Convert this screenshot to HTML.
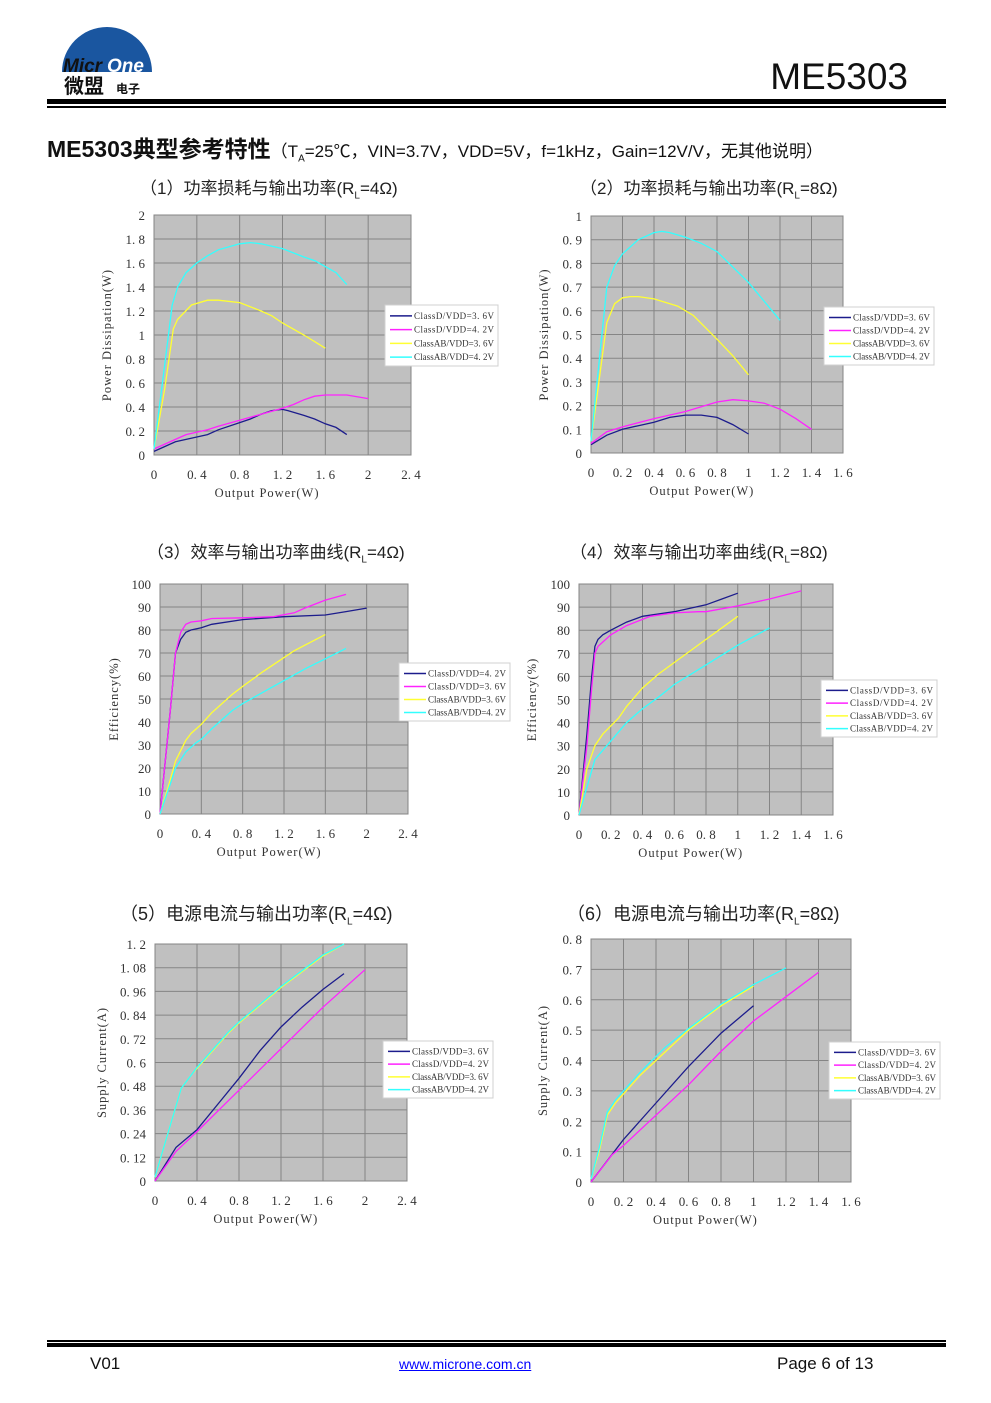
<!DOCTYPE html>
<html><head><meta charset="utf-8">
<style>
body{margin:0;background:#fff;}
#page{position:relative;width:991px;height:1403px;overflow:hidden;background:#fff;font-family:"Liberation Sans","Noto Sans CJK SC",sans-serif;}
.abs{position:absolute;white-space:nowrap;}
.ct{font-size:17px;color:#222;font-family:"Liberation Sans","Noto Sans CJK SC",sans-serif;}
#charts text{font-family:"Liberation Serif","Noto Serif CJK SC",serif;}
</style></head>
<body>
<div id="page">
  <svg class="abs" style="left:60px;top:14px" width="95" height="85">
    <path d="M2,58 A45,45 0 0 1 92,58 Z" fill="#1a56a0"/>
    <text x="3" y="58" style="font-family:'Liberation Sans',sans-serif;font-weight:bold;font-style:italic;font-size:19px" fill="#111">Micr</text>
    <text x="47" y="58" style="font-family:'Liberation Sans',sans-serif;font-weight:bold;font-style:italic;font-size:19px" fill="#fff">One</text>
    <text x="4" y="79" style="font-family:'Noto Sans CJK SC',sans-serif;font-weight:bold;font-size:20px" fill="#111">微盟</text>
    <text x="56" y="79" style="font-family:'Noto Sans CJK SC',sans-serif;font-weight:bold;font-size:12px" fill="#111">电子</text>
  </svg>
  <div class="abs" style="right:83px;top:56px;font-size:37px;color:#111">ME5303</div>
  <div class="abs" style="left:47px;top:99px;width:899px;height:5px;background:#000"></div>
  <div class="abs" style="left:47px;top:106px;width:899px;height:1.5px;background:#000"></div>
  <div class="abs" style="left:47px;top:130px;font-size:23px;font-weight:bold;color:#111">ME5303典型参考特性<span style="font-size:17px;font-weight:normal">（T<sub style="font-size:10px">A</sub>=25℃，VIN=3.7V，VDD=5V，f=1kHz，Gain=12V/V，无其他说明）</span></div>

  <div class="abs ct" style="left:140px;top:174px">（1）功率损耗与输出功率(R<sub style="font-size:10px">L</sub>=4Ω)</div>
  <div class="abs ct" style="left:580px;top:174px">（2）功率损耗与输出功率(R<sub style="font-size:10px">L</sub>=8Ω)</div>
  <div class="abs ct" style="left:147px;top:538px">（3）效率与输出功率曲线(R<sub style="font-size:10px">L</sub>=4Ω)</div>
  <div class="abs ct" style="left:570px;top:538px">（4）效率与输出功率曲线(R<sub style="font-size:10px">L</sub>=8Ω)</div>
  <div class="abs ct" style="left:120px;top:900px;font-size:18px">（5）电源电流与输出功率(R<sub style="font-size:10px">L</sub>=4Ω)</div>
  <div class="abs ct" style="left:567px;top:900px;font-size:18px">（6）电源电流与输出功率(R<sub style="font-size:10px">L</sub>=8Ω)</div>

  <svg id="charts" class="abs" style="left:0;top:0" width="991" height="1403"></svg>

  <div class="abs" style="left:47px;top:1340px;width:899px;height:1.5px;background:#000"></div>
  <div class="abs" style="left:47px;top:1343px;width:899px;height:4px;background:#000"></div>
  <div class="abs" style="left:90px;top:1354px;font-size:17px;color:#111">V01</div>
  <a class="abs" style="left:399px;top:1356px;font-size:14px;color:#00f;text-decoration:underline">www.microne.com.cn</a>
  <div class="abs" style="left:777px;top:1354px;font-size:17px;color:#111">Page 6 of 13</div>
</div>
<script>
// ---- Chart data ----
const c1Legend = ["ClassD/VDD=3.6V","ClassD/VDD=4.2V","ClassAB/VDD=3.6V","ClassAB/VDD=4.2V"];
const c1XTicks = ["0","0.4","0.8","1.2","1.6","2","2.4"];
const c1YTicks = ["0","0.2","0.4","0.6","0.8","1","1.2","1.4","1.6","1.8","2"];
const c1Navy = [[0,0.03],[0.2,0.11],[0.3,0.13],[0.5,0.17],[0.6,0.21],[0.8,0.27],[0.9,0.3],[1.0,0.34],[1.1,0.37],[1.2,0.38],[1.25,0.37],[1.4,0.33],[1.5,0.3],[1.6,0.26],[1.7,0.23],[1.8,0.17]];
const c1Mag = [[0,0.05],[0.2,0.13],[0.3,0.17],[0.5,0.21],[0.6,0.24],[0.8,0.29],[1.0,0.34],[1.2,0.39],[1.3,0.42],[1.4,0.46],[1.5,0.49],[1.6,0.5],[1.7,0.5],[1.8,0.5],[2.0,0.47]];
const c1Yel = [[0,0.05],[0.1,0.55],[0.18,1.05],[0.22,1.13],[0.35,1.25],[0.5,1.29],[0.6,1.29],[0.8,1.27],[1.0,1.2],[1.1,1.16],[1.2,1.1],[1.4,1.0],[1.6,0.89]];
const c1Cyan = [[0,0.05],[0.1,0.75],[0.17,1.25],[0.22,1.4],[0.3,1.52],[0.4,1.6],[0.5,1.66],[0.6,1.71],[0.8,1.76],[0.9,1.77],[1.0,1.76],[1.2,1.72],[1.4,1.65],[1.5,1.62],[1.6,1.57],[1.7,1.52],[1.8,1.42]];

const c2Legend = ["ClassD/VDD=3.6V","ClassD/VDD=4.2V","ClassAB/VDD=3.6V","ClassAB/VDD=4.2V"];
const c2XTicks = ["0","0.2","0.4","0.6","0.8","1","1.2","1.4","1.6"];
const c2YTicks = ["0","0.1","0.2","0.3","0.4","0.5","0.6","0.7","0.8","0.9","1"];
const c2Navy = [[0,0.035],[0.1,0.075],[0.2,0.1],[0.3,0.115],[0.4,0.13],[0.5,0.15],[0.6,0.16],[0.7,0.16],[0.8,0.15],[0.9,0.12],[1.0,0.08]];
const c2Mag = [[0,0.04],[0.1,0.09],[0.2,0.11],[0.4,0.145],[0.6,0.175],[0.7,0.195],[0.8,0.215],[0.9,0.225],[1.0,0.22],[1.1,0.21],[1.2,0.185],[1.3,0.145],[1.4,0.1]];
const c2Yel = [[0,0.05],[0.1,0.55],[0.15,0.63],[0.2,0.655],[0.25,0.66],[0.3,0.66],[0.4,0.65],[0.55,0.62],[0.65,0.58],[0.8,0.48],[0.9,0.41],[1.0,0.33]];
const c2Cyan = [[0,0.05],[0.1,0.7],[0.15,0.79],[0.2,0.84],[0.3,0.9],[0.4,0.93],[0.45,0.935],[0.5,0.93],[0.6,0.91],[0.7,0.885],[0.8,0.85],[1.0,0.72],[1.2,0.56]];

const c3Legend = ["ClassD/VDD=4.2V","ClassD/VDD=3.6V","ClassAB/VDD=3.6V","ClassAB/VDD=4.2V"];
const c3XTicks = ["0","0.4","0.8","1.2","1.6","2","2.4"];
const c3YTicks = ["0","10","20","30","40","50","60","70","80","90","100"];
const c3Navy = [[0,0],[0.1,45],[0.15,70],[0.2,76],[0.25,79],[0.3,80],[0.4,81],[0.5,82.5],[0.8,84.5],[1.2,85.8],[1.6,86.5],[1.8,88],[2.0,89.5]];
const c3Mag = [[0,0],[0.1,45],[0.15,70],[0.2,79],[0.25,82.5],[0.3,83.5],[0.4,84],[0.5,85],[0.8,85.3],[1.1,85.8],[1.3,87.5],[1.4,89.5],[1.6,93],[1.8,95.5]];
const c3Yel = [[0,0],[0.1,15],[0.15,23],[0.25,32],[0.3,35],[0.4,39],[0.5,44],[0.7,52],[0.8,55.5],[1.0,62],[1.2,68],[1.3,71],[1.6,78]];
const c3Cyan = [[0,0],[0.1,13],[0.15,20],[0.25,27],[0.35,31],[0.4,32.5],[0.5,37],[0.7,45],[0.8,48],[1.0,53],[1.2,58],[1.4,63],[1.6,67.5],[1.8,72]];

const c4Legend = ["ClassD/VDD=3.6V","ClassD/VDD=4.2V","ClassAB/VDD=3.6V","ClassAB/VDD=4.2V"];
const c4XTicks = ["0","0.2","0.4","0.6","0.8","1","1.2","1.4","1.6"];
const c4YTicks = ["0","10","20","30","40","50","60","70","80","90","100"];
const c4Navy = [[0,0],[0.05,35],[0.08,60],[0.1,73],[0.12,76],[0.15,78],[0.2,80],[0.3,83.5],[0.4,86],[0.6,88],[0.8,91],[0.9,93.5],[1.0,96]];
const c4Mag = [[0,0],[0.05,30],[0.08,55],[0.1,70],[0.12,73],[0.2,78],[0.3,82],[0.45,86],[0.6,87.5],[0.75,88],[0.8,88],[1.0,90.5],[1.2,93.5],[1.4,97]];
const c4Yel = [[0,0],[0.05,20],[0.1,30],[0.15,35],[0.25,42],[0.3,47],[0.4,55],[0.5,61],[0.6,66],[0.8,76],[1.0,86]];
const c4Cyan = [[0,0],[0.05,12],[0.1,24],[0.15,28],[0.25,36],[0.3,40],[0.4,46],[0.5,51],[0.6,56.5],[0.8,65],[1.0,73.5],[1.2,81]];

const c5Legend = ["ClassD/VDD=3.6V","ClassD/VDD=4.2V","ClassAB/VDD=3.6V","ClassAB/VDD=4.2V"];
const c5XTicks = ["0","0.4","0.8","1.2","1.6","2","2.4"];
const c5YTicks = ["0","0.12","0.24","0.36","0.48","0.6","0.72","0.84","0.96","1.08","1.2"];
const c5Navy = [[0,0],[0.2,0.17],[0.4,0.26],[0.6,0.39],[0.8,0.52],[1.0,0.66],[1.2,0.78],[1.4,0.88],[1.6,0.97],[1.7,1.01],[1.8,1.05]];
const c5Mag = [[0,0],[0.2,0.15],[0.4,0.25],[0.8,0.46],[1.2,0.67],[1.6,0.88],[2.0,1.07]];
const c5Yel = [[0,0.02],[0.1,0.2],[0.2,0.38],[0.25,0.47],[0.35,0.54],[0.4,0.57],[0.5,0.63],[0.7,0.75],[0.8,0.8],[1.0,0.89],[1.2,0.98],[1.5,1.1],[1.6,1.14],[1.8,1.2]];
const c5Cyan = [[0,0.02],[0.1,0.2],[0.2,0.38],[0.25,0.47],[0.35,0.54],[0.4,0.575],[0.5,0.635],[0.7,0.755],[0.8,0.805],[1.0,0.895],[1.2,0.985],[1.5,1.105],[1.6,1.145],[1.8,1.2]];

const c6Legend = ["ClassD/VDD=3.6V","ClassD/VDD=4.2V","ClassAB/VDD=3.6V","ClassAB/VDD=4.2V"];
const c6XTicks = ["0","0.2","0.4","0.6","0.8","1","1.2","1.4","1.6"];
const c6YTicks = ["0","0.1","0.2","0.3","0.4","0.5","0.6","0.7","0.8"];
const c6Navy = [[0,0],[0.1,0.07],[0.2,0.14],[0.4,0.26],[0.6,0.38],[0.8,0.49],[1.0,0.58]];
const c6Mag = [[0,0],[0.13,0.09],[0.2,0.12],[0.4,0.22],[0.6,0.32],[0.8,0.43],[1.0,0.53],[1.2,0.61],[1.4,0.69]];
const c6Yel = [[0,0.01],[0.05,0.1],[0.1,0.22],[0.15,0.26],[0.2,0.29],[0.3,0.35],[0.4,0.4],[0.6,0.5],[0.8,0.58],[1.0,0.645]];
const c6Cyan = [[0,0.01],[0.05,0.11],[0.1,0.23],[0.15,0.27],[0.2,0.3],[0.3,0.36],[0.45,0.44],[0.6,0.505],[0.8,0.585],[1.0,0.65],[1.2,0.705]];

const NS = "http://www.w3.org/2000/svg";
const svg = document.getElementById("charts");
const COLORS = {navy:"#1c1c8c", mag:"#ff22ff", yel:"#ffff33", cyan:"#33ffff"};
function mk(tag, attrs, parent){const e=document.createElementNS(NS,tag);for(const k in attrs)e.setAttribute(k,attrs[k]);(parent||svg).appendChild(e);return e;}
function spaced(s){return s.replace(/\./g,". ");}

function drawChart(id, box, xTicks, yTicks, yTitle, seriesList, legendNames, legendColors, legBox, yTitleOff){
  const g = mk("g",{});
  
  
  const xMax = parseFloat(xTicks[xTicks.length-1]), yMax = parseFloat(yTicks[yTicks.length-1]);
  const sx = v => box.x + v/xMax*box.w;
  const sy = v => box.y + box.h - v/yMax*box.h;
  const bg = mk("rect",{x:box.x,y:box.y,width:box.w,height:box.h,fill:"#c0c0c0",stroke:"#808080","stroke-width":1},g);
  
  
  xTicks.forEach(t=>{const v=parseFloat(t);const x=sx(v);
    mk("line",{x1:x,y1:box.y,x2:x,y2:box.y+box.h,stroke:"#858585","stroke-width":1},g);
    const tx=mk("text",{x:x,y:box.y+box.h+24,"text-anchor":"middle","font-size":13,fill:"#333"},g);
    tx.textContent=spaced(t);
    
    
  });
  yTicks.forEach(t=>{const v=parseFloat(t);const y=sy(v);
    mk("line",{x1:box.x,y1:y,x2:box.x+box.w,y2:y,stroke:"#858585","stroke-width":1},g);
    const ty=mk("text",{x:box.x-9,y:y+5,"text-anchor":"end","font-size":13,fill:"#333"},g);
    ty.textContent=spaced(t);
    
    
  });
  const xt=mk("text",{x:box.x+box.w*0.44,y:box.y+box.h+42,"text-anchor":"middle","font-size":12.5,fill:"#333","letter-spacing":"1"},g);
  xt.textContent="Output Power(W)";
  
  
  const yx=box.x-yTitleOff, yy=box.y+box.h/2;
  const yt=mk("text",{x:yx,y:yy,"text-anchor":"middle","font-size":12.5,fill:"#333","letter-spacing":"1",transform:`rotate(-90 ${yx} ${yy})`},g);
  yt.textContent=yTitle;
  
  
  seriesList.forEach((s,i)=>{
    const d=s.pts.map((p,j)=>(j?"L":"M")+sx(p[0]).toFixed(1)+","+sy(p[1]).toFixed(1)).join(" ");
    const path=mk("path",{d:d,fill:"none",stroke:s.color,"stroke-width":1.3},g);
    
    
  });
  const lg=mk("g",{},g);
  
  
  mk("rect",{x:legBox.x,y:legBox.y,width:legBox.w,height:legBox.h,fill:"#fff",stroke:"#d0d0d0"},lg);
  const step=(legBox.h-6)/4;
  legendNames.forEach((n,i)=>{
    const y=legBox.y+4+step*(i+0.5);
    mk("line",{x1:legBox.x+5,y1:y,x2:legBox.x+27,y2:y,stroke:legendColors[i],"stroke-width":1.5},lg);
    const t=mk("text",{x:legBox.x+29,y:y+3,"font-size":9,fill:"#333",textLength:legBox.w-33,lengthAdjust:"spacing"},lg);
    t.textContent=spaced(n);
    
    
  });
}
const C=COLORS;
drawChart("chart1-power-dissipation-4ohm",{x:154,y:215,w:257,h:240},c1XTicks,c1YTicks,"Power Dissipation(W)",
  [{pts:c1Navy,color:C.navy},{pts:c1Mag,color:C.mag},{pts:c1Yel,color:C.yel},{pts:c1Cyan,color:C.cyan}],
  c1Legend,[C.navy,C.mag,C.yel,C.cyan],{x:385,y:305,w:113,h:61},43);
drawChart("chart2-power-dissipation-8ohm",{x:591,y:216,w:252,h:237},c2XTicks,c2YTicks,"Power Dissipation(W)",
  [{pts:c2Navy,color:C.navy},{pts:c2Mag,color:C.mag},{pts:c2Yel,color:C.yel},{pts:c2Cyan,color:C.cyan}],
  c2Legend,[C.navy,C.mag,C.yel,C.cyan],{x:824,y:307,w:110,h:58},43);
drawChart("chart3-efficiency-4ohm",{x:160,y:584,w:248,h:230},c3XTicks,c3YTicks,"Efficiency(%)",
  [{pts:c3Navy,color:C.navy},{pts:c3Mag,color:C.mag},{pts:c3Yel,color:C.yel},{pts:c3Cyan,color:C.cyan}],
  c3Legend,[C.navy,C.mag,C.yel,C.cyan],{x:399,y:663,w:111,h:58},42);
drawChart("chart4-efficiency-8ohm",{x:579,y:584,w:254,h:231},c4XTicks,c4YTicks,"Efficiency(%)",
  [{pts:c4Navy,color:C.navy},{pts:c4Mag,color:C.mag},{pts:c4Yel,color:C.yel},{pts:c4Cyan,color:C.cyan}],
  c4Legend,[C.navy,C.mag,C.yel,C.cyan],{x:821,y:680,w:116,h:57},43);
drawChart("chart5-supply-current-4ohm",{x:155,y:944,w:252,h:237},c5XTicks,c5YTicks,"Supply Current(A)",
  [{pts:c5Navy,color:C.navy},{pts:c5Mag,color:C.mag},{pts:c5Yel,color:C.yel},{pts:c5Cyan,color:C.cyan}],
  c5Legend,[C.navy,C.mag,C.yel,C.cyan],{x:383,y:1041,w:110,h:57},49);
drawChart("chart6-supply-current-8ohm",{x:591,y:939,w:260,h:243},c6XTicks,c6YTicks,"Supply Current(A)",
  [{pts:c6Navy,color:C.navy},{pts:c6Mag,color:C.mag},{pts:c6Yel,color:C.yel},{pts:c6Cyan,color:C.cyan}],
  c6Legend,[C.navy,C.mag,C.yel,C.cyan],{x:829,y:1042,w:111,h:57},44);
</script>
</body></html>
